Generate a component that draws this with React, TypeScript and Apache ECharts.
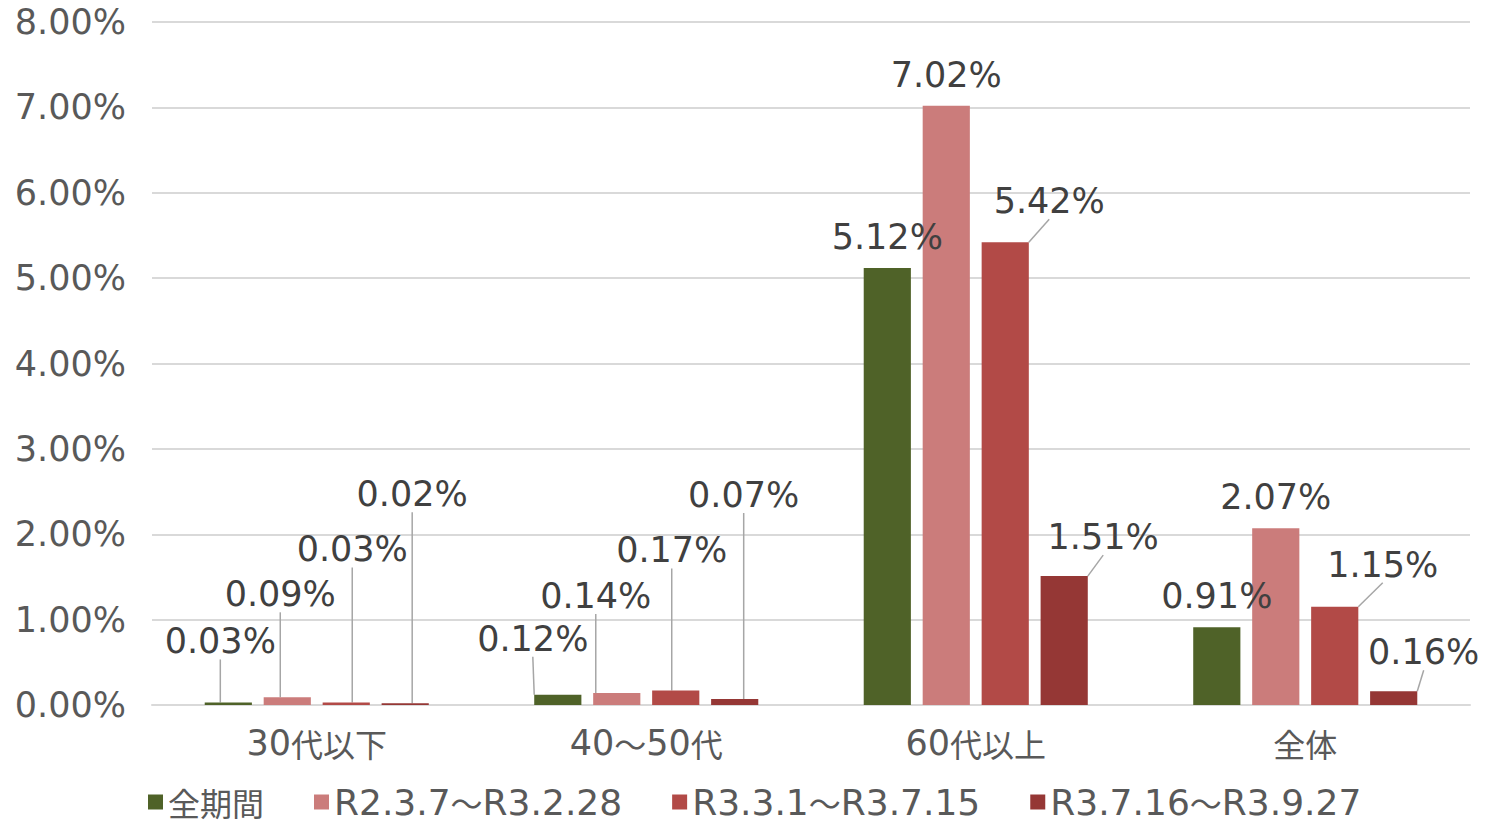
import React, { useEffect, useRef } from "react";
import * as echarts from "echarts";

const categories = ["30代以下", "40～50代", "60代以上", "全体"];
const seriesNames = ["全期間", "R2.3.7～R3.2.28", "R3.3.1～R3.7.15", "R3.7.16～R3.9.27"];
const allPeriod = [0.03, 0.12, 5.12, 0.91];
const periodA = [0.09, 0.14, 7.02, 2.07];
const periodB = [0.03, 0.17, 5.42, 1.15];
const periodC = [0.02, 0.07, 1.51, 0.16];
const yTicks = [0, 1, 2, 3, 4, 5, 6, 7, 8];

const colors = ["#4F6228", "#CB7C7B", "#B24A47", "#953735"];
// label offsets [dx, dy] per series per category
const labelOffsets = [
  [[-8, -30], [-25, -25], [0, 0], [0, 0]],
  [[-7, -72], [-21, -66], [0, 0], [0, 0]],
  [[6, -122], [-4, -109], [44, -10], [48, -11]],
  [[7, -178], [9, -173], [39, -8], [30, -8]],
];

const FONT = '"DejaVu Sans", "Noto Sans CJK JP", sans-serif';
const CJK_FONT = '"Noto Sans CJK JP", sans-serif';
const TEXT = "#595959";

// split text into latin / CJK runs for rich text
function richify(s: string): string {
  let out = "";
  let cur = "";
  let curType = "";
  for (const ch of s) {
    const t = ch.charCodeAt(0) > 0x2e80 ? "c" : "l";
    if (t !== curType && cur) {
      out += `{${curType}|${cur}}`;
      cur = "";
    }
    curType = t;
    cur += ch;
  }
  if (cur) out += `{${curType}|${cur}}`;
  return out;
}

function richStyles(latin: number, cjk: number) {
  return {
    l: { fontFamily: FONT, fontSize: latin, color: TEXT, lineHeight: 40, verticalAlign: "middle" },
    c: { fontFamily: CJK_FONT, fontSize: cjk, color: TEXT, lineHeight: 40, verticalAlign: "middle" },
  };
}

export default function App() {
  const ref = useRef<HTMLDivElement>(null);
  useEffect(() => {
    if (!ref.current) return;
    const chart = echarts.init(ref.current, null, { renderer: "svg" });
    const data = [allPeriod, periodA, periodB, periodC];
    chart.setOption({
      animation: false,
      textStyle: { fontFamily: FONT },
      grid: { left: 152, right: 19, top: 22, bottom: 119, containLabel: false },
      legend: {
        top: 784,
        left: 143,
        padding: [0, 5, 0, 5],
        itemWidth: 15,
        itemHeight: 15,
        itemGap: 50,
        icon: "rect",
        formatter: (n: string) => richify(n),
        textStyle: { fontFamily: FONT, fontSize: 35, color: TEXT, rich: richStyles(36, 32) },
        data: seriesNames,
      },
      xAxis: {
        type: "category",
        data: categories,
        axisTick: { show: false },
        axisLine: { lineStyle: { color: "#D9D9D9", width: 2 } },
        axisLabel: {
          interval: 0,
          fontFamily: FONT,
          fontSize: 33,
          color: TEXT,
          margin: 18,
          formatter: (v: string) => richify(v),
          rich: richStyles(35, 32),
        },
      },
      yAxis: {
        type: "value",
        min: yTicks[0],
        max: yTicks[yTicks.length - 1],
        interval: 1,
        axisLine: { show: false },
        axisTick: { show: false },
        splitLine: { lineStyle: { color: "#D9D9D9", width: 2 } },
        axisLabel: {
          fontFamily: FONT,
          fontSize: 35,
          color: TEXT,
          margin: 26,
          formatter: (v: number) => v.toFixed(2) + "%",
        },
      },
      series: seriesNames.map((name, si) => ({
        name,
        type: "bar",
        barGap: "25%",
        barCategoryGap: "32%",
        itemStyle: { color: colors[si] },
        data: data[si].map((v, ci) => {
          const o = labelOffsets[si][ci];
          const moved = o[0] !== 0 || o[1] !== 0;
          return { value: v, labelLine: { show: moved } };
        }),
        label: {
          show: true,
          position: "top",
          distance: 13,
          fontFamily: FONT,
          fontSize: 35,
          lineHeight: 36,
          color: "#404040",
          formatter: (p: any) => p.value.toFixed(2) + "%",
        },
        labelLine: { show: true, lineStyle: { color: "#A6A6A6", width: 1.5 } },
        labelLayout: (p: any) => {
          const o = labelOffsets[si][p.dataIndex];
          return { dx: o[0], dy: o[1] };
        },
      })),
    });
    return () => chart.dispose();
  }, []);
  return (
    <div
      ref={ref}
      style={{ position: "absolute", left: 0, top: 0, width: 1489, height: 824 }}
    />
  );
}
